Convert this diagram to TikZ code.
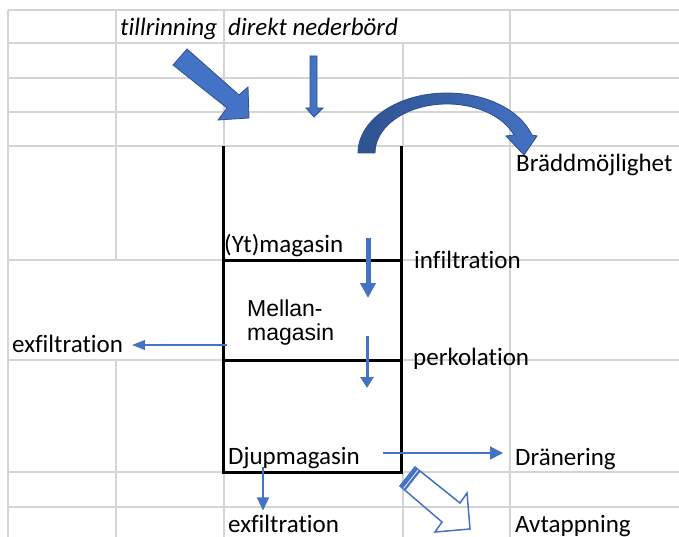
\documentclass[tikz,border=0pt]{standalone}
\usepackage{fontspec}
\setmainfont{Carlito}[Ligatures=NoCommon]
\newfontfamily\arialfont{Liberation Sans}
\usetikzlibrary{arrows.meta}
\definecolor{officeblue}{RGB}{68,114,196}
\definecolor{darkblue}{RGB}{47,82,143}
\definecolor{cellgray}{RGB}{212,212,212}
\tikzset{
	GL/.style={draw=cellgray,line width=1.5pt}
}
\tikzset{
	BX/.style={draw=black,line width=3pt,line cap=rect}
}
\tikzset{
	TX/.style={inner sep=0pt,anchor=base west,font=\fontsize{25}{30}\selectfont},
	TXI/.style={TX,font=\fontsize{25}{30}\selectfont\itshape}
}
\tikzset{
	PL/.style={draw=officeblue,line width=1.5pt,-{Triangle[length=13pt,width=#1]}},
	PL/.default=11pt,
	BA/.style={fill=officeblue,draw=darkblue,line width=0.8pt,line join=miter}
}
\begin{document}
\begin{tikzpicture}[x=1pt,y=-1pt]
	\clip (0,0) rectangle (679,537);
	\fill[white] (0,0) rectangle (679,537);
	% rutnat
	\foreach \y in {10,43,78,112,146,260,360,472,507}{
		\draw[GL] (8,\y) -- (679,\y);
	}
	\foreach \x/\a/\b in {8/10/537,116/10/260,116/360/537,224/10/146,224/472/537,403/43/146,403/472/537,510/10/537}{
		\draw[GL] (\x,\a) -- (\x,\b);
	}
	% magasinet
	\draw[BX,line cap=butt] (223,146) -- (223,472) -- (401.5,472) -- (401.5,146);
	\draw[BX,line cap=butt] (223,260) -- (401.5,260);
	\draw[BX,line cap=butt] (223,360) -- (401.5,360);
	% texter
	\node[TXI] (tillr) at (120,36) {tillrinning};
	\node[TXI] (direkt) at (228,36) {direkt nederbörd};
	\node[TX] (bradd) at (516,172) {Bräddmöjlighet};
	\node[TX] (yt) at (224,252) {(Yt)magasin};
	\node[TX] (infil) at (414,268) {infiltration};
	\node[TX,font=\fontsize{23}{24}\arialfont] (mel) at (247,316) {Mellan-};
	\node[TX,font=\fontsize{23}{24}\arialfont] (mag) at (247,340) {magasin};
	\node[TX] (exfilA) at (12,352) {exfiltration};
	\node[TX] (perk) at (413,365) {perkolation};
	\node[TX] (djup) at (228,464) {Djupmagasin};
	\node[TX] (dran) at (515,465) {Dränering};
	\node[TX] (exfilB) at (228,532) {exfiltration};
	\node[TX] (avt) at (515,532) {Avtappning};
	% pilar
	\coordinate (inA) at (368,238);
	\coordinate (inB) at (368,298);
	\coordinate (peA) at (367,336);
	\coordinate (peB) at (367,388);
	\coordinate (exA) at (227,345);
	\coordinate (djA) at (263,467);
	\coordinate (drA) at (383,453);
	\draw[PL,line width=5pt,-{Triangle[length=15pt,width=15pt]}] (inA) -- (inB);
	\draw[PL,line width=3pt,-{Triangle[length=11pt,width=13pt]}] (peA) -- (peB);
	\draw[PL=10pt,shorten >=9pt] (exA) -- (exA -| exfilA.east);
	\draw[PL=12pt,shorten >=4pt] (djA) -- (djA |- exfilB.north);
	\draw[PL=13pt,shorten >=12pt] (drA) -- (drA -| dran.west);
	\filldraw[BA] (173,65) -- (187,49) -- (239,95) -- (248,87) -- (249,118) -- (218,120) -- (227,108) -- cycle;
	\filldraw[BA] (310,56) -- (317,56) -- (317,108) -- (323,108) -- (314,117) -- (306,108) -- (310,108) -- cycle;
	\filldraw[BA,left color=darkblue,right color=officeblue] (358,153) arc[start angle=180,end angle=342.5,x radius=89,y radius=60] -- (537,136) -- (524,155) -- (506,136) -- (514,135) arc[start angle=338.5,end angle=180,x radius=72,y radius=49] -- cycle;
	\draw[officeblue,line width=1.5pt,line join=miter] (400,486) -- (415,467) -- (460,503) -- (467,493) -- (470,529) -- (435,532) -- (442,522) -- cycle;
	\fill[officeblue] (400,486) -- (415,467) -- (420.4,471.5) -- (405.4,490.5) -- cycle;
	\draw[white,line width=0.7pt] (403.6,488.4) -- (418.2,469.8);
\end{tikzpicture}
\end{document}
